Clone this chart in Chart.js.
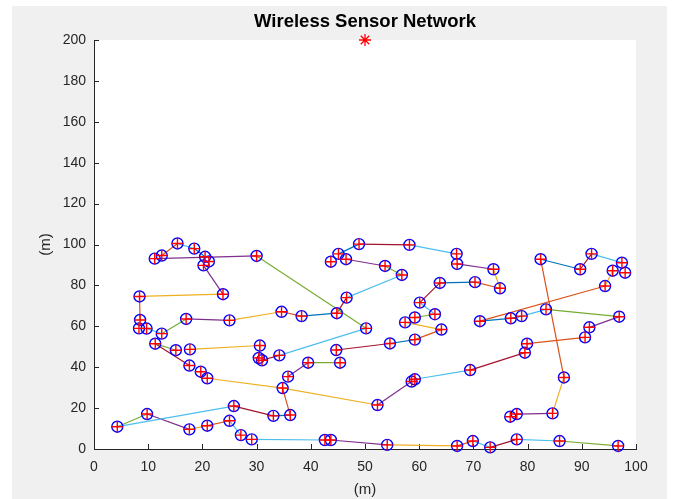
<!DOCTYPE html>
<html>
<head>
<meta charset="utf-8">
<title>Wireless Sensor Network</title>
<script src="https://cdn.jsdelivr.net/npm/chart.js@4/dist/chart.umd.min.js"></script>
<style>
  html, body { margin: 0; padding: 0; background: #ffffff; }
  canvas { display: block; }
</style>
</head>
<body>
<canvas id="wsn" width="675" height="499"></canvas>
<script>
// Sensor node positions in metres (index = node id)
const nodeX = [
  15.4, 18.5, 11.2, 12.5, 20.5, 21.2, 20.2, 30.0, 23.8, 8.4,
  8.5, 8.3, 9.7, 12.5, 17.0, 25.0, 34.6, 11.3, 15.1, 17.7,
  30.6, 30.4, 31.0, 34.2, 17.6, 19.7, 20.9, 35.8, 34.8, 33.1,
  36.2, 25.8, 9.8, 4.3, 17.6, 20.9, 25.0, 27.1, 29.1, 48.9,
  58.2, 66.9, 67.0, 45.1, 43.7, 46.5, 53.7, 56.8, 63.8, 70.3,
  46.6, 60.1, 38.3, 44.8, 50.2, 62.9, 59.2, 57.4, 64.1, 59.2,
  54.6, 44.7, 39.5, 45.4, 52.3, 58.6, 59.2, 69.4, 42.6, 43.7,
  54.1, 67.0, 69.9, 82.4, 89.7, 91.8, 97.4, 95.7, 98.0, 94.3,
  73.7, 74.9, 83.4, 96.9, 71.2, 76.9, 78.9, 91.4, 90.6, 79.9,
  79.5, 86.7, 84.6, 78.0, 76.8, 73.1, 78.0, 85.9, 96.7
];
const nodeY = [
  100.5, 98.0, 93.1, 94.6, 94.0, 91.7, 89.8, 94.4, 75.7, 74.6,
  63.1, 59.0, 58.9, 56.4, 63.6, 62.9, 67.1, 51.5, 48.3, 48.7,
  50.6, 44.5, 43.4, 45.8, 40.8, 37.8, 34.6, 35.4, 29.8, 16.2,
  16.6, 21.0, 17.1, 10.9, 9.6, 11.4, 13.8, 6.8, 4.7, 100.2,
  99.8, 95.4, 90.5, 95.4, 91.6, 92.8, 89.5, 85.1, 81.2, 81.6,
  74.0, 71.6, 65.0, 66.4, 59.0, 65.9, 64.3, 61.9, 58.4, 53.5,
  51.6, 48.4, 42.2, 42.2, 21.5, 33.0, 34.1, 38.6, 4.4, 4.4,
  2.0, 1.5, 3.9, 92.8, 87.9, 95.4, 91.1, 87.2, 86.2, 79.7,
  87.9, 78.6, 68.3, 64.7, 62.5, 63.9, 65.0, 59.5, 54.6, 51.5,
  47.1, 35.0, 17.4, 17.1, 15.8, 0.8, 4.7, 3.9, 1.5
];

// Radio links between nodes (pairs of node ids)
const linkFrom = [
  3, 0, 1, 2, 7, 6, 9, 9, 12, 13, 14, 15, 16, 52, 53, 50, 47, 46, 43, 39,
  40, 42, 80, 49, 48, 48, 51, 55, 57, 58, 59, 61, 54, 17, 19, 20, 22, 17, 26, 28,
  27, 62, 28, 29, 31, 33, 33, 32, 34, 35, 36, 38, 69, 70, 71, 72, 95, 96, 97, 64,
  66, 67, 89, 83, 73, 91, 92, 73, 74, 75, 77, 79, 82, 82, 85, 86
];
const linkTo = [
  0, 1, 4, 7, 54, 8, 8, 10, 13, 14, 15, 16, 52, 53, 50, 47, 46, 45, 39, 40,
  41, 80, 81, 81, 49, 51, 55, 56, 58, 59, 60, 60, 23, 18, 20, 21, 23, 24, 28, 64,
  62, 63, 30, 30, 29, 31, 32, 34, 35, 36, 37, 68, 70, 71, 72, 95, 96, 97, 98, 65,
  67, 90, 88, 87, 91, 92, 93, 74, 75, 76, 79, 84, 83, 86, 84, 85
];

// Base station
const sinkX = [50];
const sinkY = [200];

// Axis tick values
const xTicks = [0, 10, 20, 30, 40, 50, 60, 70, 80, 90, 100];
const yTicks = [0, 20, 40, 60, 80, 100, 120, 140, 160, 180, 200];

// Line colour of each link, as an index into the plot colour order
const linkColour = [
  1, 5, 0, 3, 4, 3, 2, 1, 5, 4, 3, 2, 1, 0, 6, 5, 4, 3, 0, 6,
  5, 3, 2, 1, 0, 6, 5, 4, 2, 1, 0, 6, 5, 4, 2, 1, 6, 6, 2, 2,
  3, 4, 1, 0, 6, 5, 4, 3, 2, 1, 5, 5, 3, 2, 1, 5, 6, 5, 4, 3,
  5, 6, 1, 3, 1, 2, 3, 0, 6, 5, 2, 1, 4, 5, 0, 0
];
const colourOrder = ['#0072BD', '#D95319', '#EDB120', '#7E2F8E', '#77AC30', '#4DBEEE', '#A2142F'];

const chartTitle = 'Wireless Sensor Network';
const FONT = "'Liberation Sans', Arial, Helvetica, sans-serif";
const INK = '#262626';

const nodes = nodeX.map((x, i) => ({ x: x, y: nodeY[i] }));

const linkSets = linkFrom.map((a, i) => ({
  type: 'scatter',
  data: [nodes[a], nodes[linkTo[i]]],
  showLine: true,
  borderColor: colourOrder[linkColour[i]],
  borderWidth: 1.2,
  pointRadius: 0,
  pointHoverRadius: 0,
  fill: false,
  order: 3
}));

// Figure background, white axes box, inward tick marks and the title over the axes
const figureFrame = {
  id: 'figureFrame',
  beforeDraw(chart) {
    const { ctx, chartArea: a, width, height } = chart;
    ctx.save();
    ctx.fillStyle = '#ffffff';
    ctx.fillRect(0, 0, width, height);
    ctx.fillStyle = '#f0f0f0';
    ctx.fillRect(12, 6, 655, height - 6);
    ctx.fillStyle = '#ffffff';
    ctx.fillRect(a.left, a.top, a.right - a.left, a.bottom - a.top);
    ctx.restore();
  },
  beforeDatasetsDraw(chart) {
    const { ctx, chartArea: a, scales } = chart;
    ctx.save();
    ctx.strokeStyle = INK;
    ctx.lineWidth = 1;
    ctx.beginPath();
    xTicks.forEach(v => {
      const px = Math.round(scales.x.getPixelForValue(v)) + 0.5;
      ctx.moveTo(px, a.bottom);
      ctx.lineTo(px, a.bottom - 5);
    });
    yTicks.forEach(v => {
      const py = Math.round(scales.y.getPixelForValue(v)) + 0.5;
      ctx.moveTo(a.left, py);
      ctx.lineTo(a.left + 5, py);
    });
    ctx.stroke();
    ctx.restore();
  },
  afterDraw(chart) {
    const { ctx, chartArea: a } = chart;
    ctx.save();
    ctx.fillStyle = '#000000';
    ctx.font = 'bold 18.5px ' + FONT;
    ctx.textAlign = 'center';
    ctx.textBaseline = 'middle';
    ctx.fillText(chartTitle, (a.left + a.right) / 2, 22);
    ctx.restore();
  }
};

new Chart(document.getElementById('wsn'), {
  type: 'scatter',
  data: {
    datasets: [
      {
        data: sinkX.map((x, i) => ({ x: x, y: sinkY[i] })),
        pointStyle: 'star',
        pointRadius: 6,
        borderColor: '#ff0000',
        backgroundColor: '#ff0000',
        borderWidth: 1.3,
        clip: false,
        order: 0
      },
      {
        data: nodes,
        pointStyle: 'cross',
        pointRadius: 5.5,
        borderColor: '#ff0000',
        borderWidth: 1.4,
        clip: false,
        order: 1
      },
      {
        data: nodes,
        pointStyle: 'circle',
        pointRadius: 5.5,
        borderColor: '#0000ff',
        backgroundColor: 'rgba(0,0,0,0)',
        borderWidth: 1.4,
        clip: false,
        order: 2
      },
      ...linkSets
    ]
  },
  options: {
    responsive: false,
    animation: false,
    devicePixelRatio: 1,
    layout: { padding: { left: 0, right: 39, top: 40, bottom: 0 } },
    plugins: {
      legend: { display: false },
      tooltip: { enabled: false },
      title: { display: false }
    },
    scales: {
      x: {
        type: 'linear',
        min: 0,
        max: 100,
        afterBuildTicks: s => { s.ticks = xTicks.map(v => ({ value: v })); },
        afterFit: s => { s.height = 50; },
        grid: { display: false, drawTicks: false },
        border: { display: true, color: INK, width: 1 },
        ticks: { color: INK, font: { family: FONT, size: 14 }, padding: 10, maxRotation: 0 },
        title: { display: true, text: '(m)', color: INK, font: { family: FONT, size: 15 }, padding: { top: 0, bottom: 0 } }
      },
      y: {
        type: 'linear',
        min: 0,
        max: 200,
        afterBuildTicks: s => { s.ticks = yTicks.map(v => ({ value: v })); },
        afterFit: s => { s.width = 94; },
        grid: { display: false, drawTicks: false },
        border: { display: true, color: INK, width: 1 },
        ticks: { color: INK, font: { family: FONT, size: 14 }, padding: 8 },
        title: { display: true, text: '(m)', color: INK, font: { family: FONT, size: 15 }, padding: { top: 37, bottom: 0 } }
      }
    }
  },
  plugins: [figureFrame]
});
</script>
</body>
</html>
